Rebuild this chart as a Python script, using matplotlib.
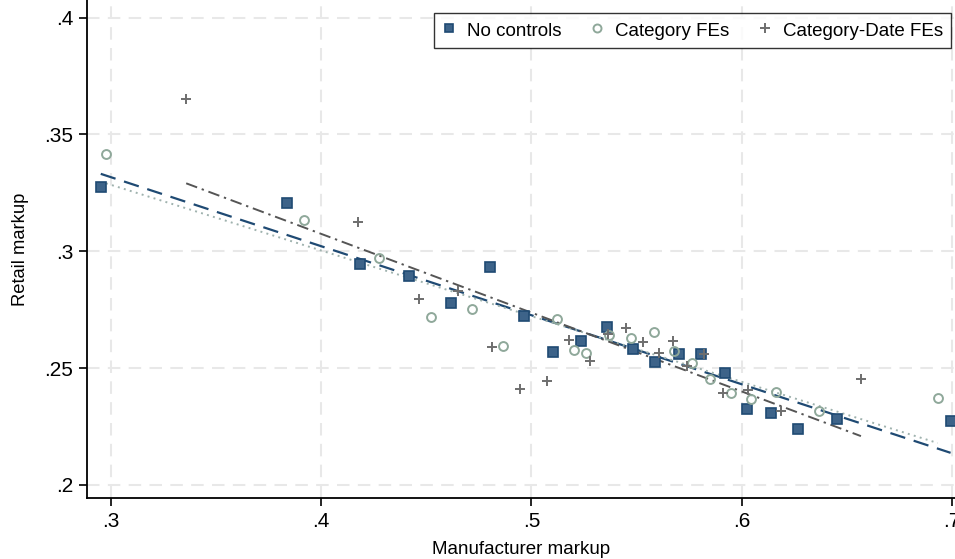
import matplotlib
matplotlib.use("Agg")
import matplotlib.pyplot as plt
import numpy as np

plt.rcParams['font.family'] = ['Liberation Sans', 'DejaVu Sans']

# binned scatter, one point per bin
x_none = [0.2953, 0.3838, 0.4185, 0.4419, 0.4617, 0.4801, 0.4963, 0.5102, 0.5234, 0.5360,
          0.5481, 0.5586, 0.5699, 0.5804, 0.5920, 0.6024, 0.6137, 0.6265, 0.6452, 0.6992]
y_none = [0.3276, 0.3208, 0.2945, 0.2894, 0.2777, 0.2934, 0.2723, 0.2568, 0.2617, 0.2677,
          0.2582, 0.2526, 0.2559, 0.2559, 0.2477, 0.2326, 0.2308, 0.2240, 0.2281, 0.2272]

x_cat = [0.2978, 0.3917, 0.4275, 0.4524, 0.4716, 0.4865, 0.5123, 0.5200, 0.5258, 0.5370,
         0.5474, 0.5582, 0.5679, 0.5761, 0.5850, 0.5947, 0.6042, 0.6164, 0.6367, 0.6931]
y_cat = [0.3415, 0.3132, 0.2972, 0.2717, 0.2753, 0.2595, 0.2708, 0.2579, 0.2565, 0.2642,
         0.2627, 0.2654, 0.2574, 0.2523, 0.2454, 0.2391, 0.2366, 0.2397, 0.2316, 0.2373]

x_catdate = [0.3359, 0.4175, 0.4464, 0.4649, 0.4811, 0.4945, 0.5072, 0.5180, 0.5278, 0.5365,
             0.5448, 0.5529, 0.5606, 0.5673, 0.5741, 0.5820, 0.5909, 0.6030, 0.6186, 0.6566]
y_catdate = [0.3653, 0.3125, 0.2797, 0.2830, 0.2591, 0.2409, 0.2443, 0.2618, 0.2530, 0.2644,
             0.2672, 0.2611, 0.2565, 0.2615, 0.2510, 0.2559, 0.2391, 0.2406, 0.2317, 0.2454]

# linear fits (intercept, slope)
fit_none = (0.4205, -0.2958)
fit_cat = (0.4129, -0.2814)
fit_catdate = (0.4425, -0.3376)

navy = '#1f4a73'
green = '#8fa89a'
grey = '#6e6e6e'

fig = plt.figure(figsize=(9.55, 5.59), dpi=100)
ax = fig.add_axes([87.3 / 955, 60.7 / 559, 1 - 87.3 / 955, 1 - 60.7 / 559])

ax.plot(x_none, y_none, 's', ms=7, mfc='#3d6389', mec=navy, mew=1.2,
        label='No controls', zorder=3, clip_on=False)
ax.plot(x_cat, y_cat, 'o', ms=6.4, mfc='none', mec=green, mew=1.4,
        label='Category FEs', zorder=3)
ax.plot(x_catdate, y_catdate, '+', ms=7.5, mec=grey, mew=1.4,
        label='Category-Date FEs', zorder=3)


def fit_line(xs, fit):
    xx = np.array([min(xs), max(xs)])
    return xx, fit[0] + fit[1] * xx


xx, yy = fit_line(x_none, fit_none)
ax.plot(xx, yy, color=navy, lw=1.6, dashes=(7, 4), zorder=2)
xx, yy = fit_line(x_cat, fit_cat)
ax.plot(xx, yy, color='#9fb2ae', lw=1.4, dashes=(1, 2.2), zorder=2)
xx, yy = fit_line(x_catdate, fit_catdate)
ax.plot(xx, yy, color='#555555', lw=1.4, dashes=(6, 2.5, 1.2, 2.5), zorder=2)

ax.set_xlim(0.2889, 0.7013)
ax.set_ylim(0.1942, 0.4076)
ax.set_xticks([0.3, 0.4, 0.5, 0.6, 0.7])
ax.set_xticklabels(['.3', '.4', '.5', '.6', '.7'])
ax.set_yticks([0.2, 0.25, 0.3, 0.35, 0.4])
ax.set_yticklabels(['.2', '.25', '.3', '.35', '.4'])
ax.tick_params(labelsize=15, length=6, width=1.2, color='black', pad=4)
ax.grid(True, color='#e8e8e8', lw=1.5, ls=(0, (6, 4)))
ax.set_axisbelow(True)
for s in ['top', 'right']:
    ax.spines[s].set_visible(False)
for s in ['left', 'bottom']:
    ax.spines[s].set_linewidth(1.3)

ax.set_xlabel('Manufacturer markup', fontsize=13.5, labelpad=7)
ax.set_ylabel('Retail markup', fontsize=13.2, labelpad=11)

leg = ax.legend(loc='upper left', ncol=3, fontsize=13.5, markerscale=0.9,
                bbox_to_anchor=((434 - 87.3) / (955 - 87.3), 1 - 12.6 / 498.3),
                borderaxespad=0, frameon=True, fancybox=False, handlelength=0.8,
                handleheight=1.1, handletextpad=0.55, columnspacing=1.5,
                borderpad=0.42)
leg.get_frame().set_edgecolor('black')
leg.get_frame().set_linewidth(1.0)

fig.savefig('out.png', dpi=100)
